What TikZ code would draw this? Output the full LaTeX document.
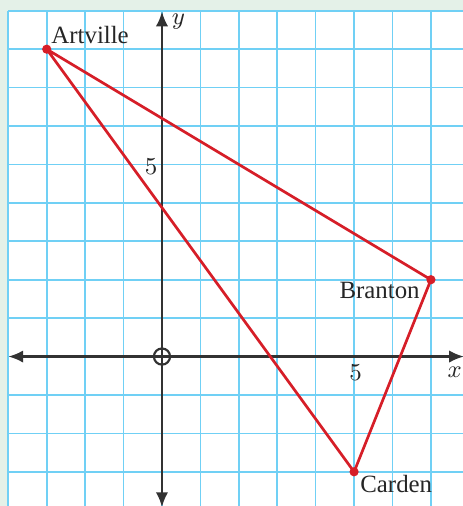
\documentclass[tikz,border=0pt]{standalone}
\usepackage{fontspec}
\setmainfont{Liberation Serif}
\usetikzlibrary{arrows.meta}
\definecolor{bggreen}{RGB}{228,241,232}
\definecolor{gridblue}{RGB}{112,208,245}
\definecolor{routered}{RGB}{214,30,40}
\definecolor{axisgray}{RGB}{50,50,50}
\begin{document}
\begin{tikzpicture}[
  x=0.5cm, y=0.5cm,
  gridln/.style={gridblue, line width=0.6pt, step=0.5cm},
  axis/.style={axisgray, line width=0.9pt,
               {Latex[length=5.5pt,width=4.6pt]}-{Latex[length=5.5pt,width=4.6pt]}},
  route/.style={routered, line width=1pt, line join=round},
  town/.style={routered},
  lbl/.style={font=\fontsize{9.2}{11}\selectfont, text=black!85, inner sep=0pt},
  tick/.style={font=\fontsize{9.2}{11}\selectfont, text=black!85, inner sep=0pt}
]
\useasboundingbox (-4.216,-3.89) rectangle (7.83,9.28);
\fill[bggreen] (-4.216,-3.89) rectangle (7.83,9.28);
\fill[white]   (-4,-3.89) rectangle (7.83,9);
\draw[gridln]  (-4,-3.89) grid (7.83,9);

\coordinate (xl) at (-4,0);
\coordinate (xr) at (7.86,0);
\coordinate (yb) at (0,-3.92);
\coordinate (yt) at (0,8.98);
\coordinate (O)  at (0,0);
\draw[axis] (xl) -- (xr);
\draw[axis] (yb) -- (yt);
\draw[axisgray, line width=0.8pt] (O) circle[radius=0.21];

\node[tick, anchor=west]  (xlab) at (7.42,-0.40) {$x$};
\node[tick]               (ylab) at (0.43,8.71)  {$y$};
\node[tick]               (x5)   at (5.04,-0.43) {$5$};
\node[tick]               (y5)   at (-0.28,4.93) {$5$};

\coordinate (A) at (-3,8);
\coordinate (B) at (7,2);
\coordinate (C) at (5,-3);
\draw[route] (A) -- (B) -- (C) -- cycle;
\fill[town] (A) circle[radius=0.12];
\fill[town] (B) circle[radius=0.12];
\fill[town] (C) circle[radius=0.12];

\node[lbl, anchor=base west] (artville) at (-2.89,8.16) {Artville};
\node[lbl, anchor=base east] (branton)  at (6.72,1.50)  {Branton};
\node[lbl, anchor=base west] (carden)   at (5.15,-3.55) {Carden};
\end{tikzpicture}
\end{document}
